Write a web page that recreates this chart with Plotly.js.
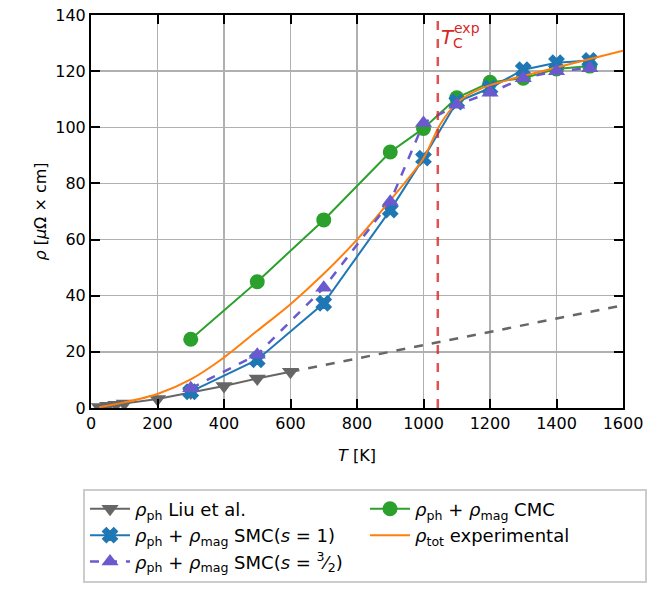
<!DOCTYPE html>
<html>
<head>
<meta charset="utf-8">
<script src="https://cdn.plot.ly/plotly-3.0.1.min.js"></script>
<style>html,body{margin:0;padding:0;background:#fff;}</style>
</head>
<body>
<div id="chart" style="width:647px;height:601px;"></div>
<script>
// Liu et al. phonon resistivity
const liuT = [25, 50, 75, 100, 200, 300, 400, 500, 600];
const liuRho = [0.4, 0.8, 1.2, 1.6, 3.2, 5.5, 7.8, 10.5, 12.9];
// extrapolation of phonon resistivity
const extT = [600, 1600];
const extRho = [12.9, 36.6];
// model temperatures
const modelT = [300, 500, 700, 900, 1000, 1100, 1200, 1300, 1400, 1500];
const cmcRho = [24.5, 45.0, 67.0, 91.2, 99.6, 110.5, 116.0, 117.5, 120.8, 121.8];
const smc1Rho = [5.8, 17.2, 37.3, 70.5, 89.0, 109.0, 114.0, 120.5, 123.0, 123.8];
const smc32Rho = [7.0, 19.0, 42.8, 73.5, 101.5, 108.0, 112.3, 117.5, 120.0, 121.0];
// experimental total resistivity
const expT = [25, 100, 200, 300, 400, 500, 600, 700, 800, 900, 1000, 1050, 1100, 1150, 1200, 1300, 1400, 1500, 1600];
const expRho = [0.3, 2.0, 5.0, 10.2, 18.0, 27.5, 37.0, 47.8, 60.0, 74.0, 89.0, 101.0, 108.6, 112.5, 115.0, 118.3, 121.3, 124.3, 127.3];
// experimental Curie temperature
const Tc = [1043];
const xTicks = [0, 200, 400, 600, 800, 1000, 1200, 1400, 1600];
const yTicks = [0, 20, 40, 60, 80, 100, 120, 140];

const FONT = 'DejaVu Sans, sans-serif';
const rho = '<i>ρ</i>';
const phmag = rho + '<sub>ph</sub> + ' + rho + '<sub>mag</sub>';

const traces = [
  {x: liuT, y: liuRho, mode: 'lines+markers', name: rho + '<sub>ph</sub> Liu et al.',
   line: {color: '#666666', width: 2}, marker: {symbol: 'triangle-down', size: 15, color: '#666666'}, legendrank: 1},
  {x: extT, y: extRho, mode: 'lines', showlegend: false,
   line: {color: '#666666', width: 2.5, dash: 'dash'}},
  {x: modelT, y: cmcRho, mode: 'lines+markers', name: phmag + ' CMC',
   line: {color: '#2ca02c', width: 2}, marker: {symbol: 'circle', size: 15, color: '#2ca02c'}, legendrank: 2},
  {x: modelT, y: smc1Rho, mode: 'lines+markers', name: phmag + ' SMC(<i>s</i> = 1)',
   line: {color: '#1f77b4', width: 2}, marker: {symbol: 'x', size: 13, color: '#1f77b4', line: {color: '#1f77b4', width: 1.5}}, legendrank: 3},
  {x: expT, y: expRho, mode: 'lines', name: rho + '<sub>tot</sub> experimental',
   line: {color: '#ff7f0e', width: 2, shape: 'spline', smoothing: 0.8}, legendrank: 4},
  {x: modelT, y: smc32Rho, mode: 'lines+markers', name: phmag + ' SMC(<i>s</i> = <sup>3</sup>⁄<sub>2</sub>)',
   line: {color: '#6a5acd', width: 2.5, dash: 'dash'}, marker: {symbol: 'triangle-up', size: 15, color: '#6a5acd'}, legendrank: 5}
];

const axisCommon = {
  showline: true, linecolor: 'black', linewidth: 2, mirror: 'ticks',
  ticks: 'inside', ticklen: 9, tickwidth: 2, tickcolor: 'black',
  showgrid: true, gridcolor: '#b0b0b0', gridwidth: 1.5, zeroline: false,
  tickfont: {family: FONT, size: 16, color: 'black'}
};

const layout = {
  width: 647, height: 601,
  margin: {l: 91, r: 24, t: 15, b: 193, autoexpand: false},
  paper_bgcolor: 'white', plot_bgcolor: 'white',
  font: {family: FONT, size: 16, color: 'black'},
  xaxis: Object.assign({}, axisCommon, {range: [0, 1600], tickvals: xTicks, ticktext: xTicks.map(String),
    title: {text: '<i>T</i> [K]', font: {family: FONT, size: 16}, standoff: 18}}),
  yaxis: Object.assign({}, axisCommon, {range: [0, 140], tickvals: yTicks, ticktext: yTicks.map(String),
    title: {text: '<i>ρ</i> [<i>μ</i>Ω × cm]', font: {family: FONT, size: 16}, standoff: 5}}),
  shapes: [{type: 'line', xref: 'x', yref: 'paper', x0: Tc[0], x1: Tc[0], y0: 0, y1: 1,
    line: {color: 'rgba(214,39,40,0.8)', width: 2.5, dash: 'dash'}}],
  annotations: [
    {x: Tc[0], y: 132, xref: 'x', yref: 'y', xanchor: 'left', yanchor: 'middle', xshift: 1, showarrow: false,
     text: '<i>T</i>', font: {family: FONT, size: 20, color: '#d62728'}},
    {x: Tc[0], y: 132, xref: 'x', yref: 'y', xanchor: 'left', yanchor: 'middle', xshift: 14, yshift: 9, showarrow: false,
     text: 'exp', font: {family: FONT, size: 14, color: '#d62728'}},
    {x: Tc[0], y: 132, xref: 'x', yref: 'y', xanchor: 'left', yanchor: 'middle', xshift: 13, yshift: -6, showarrow: false,
     text: 'C', font: {family: FONT, size: 14, color: '#d62728'}}
  ],
  showlegend: true,
  legend: {orientation: 'h', x: -0.015, xanchor: 'left', y: -0.205, yanchor: 'top',
    bordercolor: '#cccccc', borderwidth: 2, bgcolor: 'white',
    entrywidth: 225, entrywidthmode: 'pixels', itemwidth: 40,
    font: {family: FONT, size: 18, color: 'black'}, traceorder: 'normal'}
};

Plotly.newPlot('chart', traces, layout, {displayModeBar: false, staticPlot: true});
</script>
</body>
</html>
